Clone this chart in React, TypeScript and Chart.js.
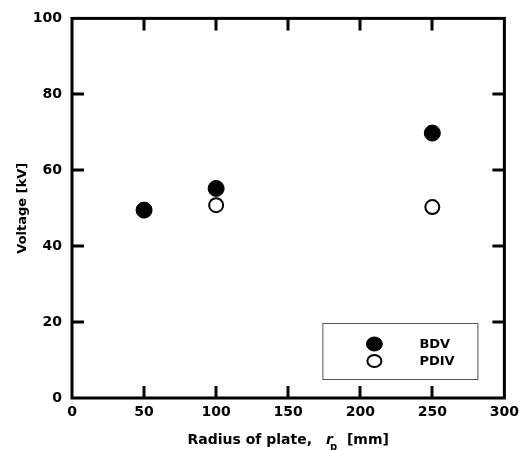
import React, { useEffect, useRef } from "react";
import { Chart, registerables } from "chart.js";

Chart.register(...registerables);

const radiusValues = [50, 100, 250];
const bdvValues = [49.5, 55.2, 69.8];
const pdivValues = [49.5, 50.8, 50.3];
const seriesLabels = ["BDV", "PDIV"];
const xTitleMain = "Radius of plate,";
const xTitleVar = "r";
const xTitleSub = "p";
const xTitleUnit = "[mm]";
const yTitle = "Voltage [kV]";

const FONT = "'DejaVu Sans', sans-serif";

const framePlugin = {
  id: "frameTicks",
  beforeDatasetsDraw(chart: any) {
    const { ctx, chartArea } = chart;
    const { left, right, top, bottom } = chartArea;
    const xs = chart.scales.x;
    const ys = chart.scales.y;
    const tl = 12;
    ctx.save();
    ctx.strokeStyle = "#000";
    ctx.lineWidth = 3;
    ctx.lineCap = "butt";
    ctx.beginPath();
    xs.ticks.forEach((t: any, i: number) => {
      if (i === 0 || i === xs.ticks.length - 1) return;
      const px = Math.round(xs.getPixelForValue(t.value));
      ctx.moveTo(px, bottom);
      ctx.lineTo(px, bottom - tl);
      ctx.moveTo(px, top);
      ctx.lineTo(px, top + tl);
    });
    ys.ticks.forEach((t: any, i: number) => {
      if (i === 0 || i === ys.ticks.length - 1) return;
      const py = Math.round(ys.getPixelForValue(t.value));
      ctx.moveTo(left, py);
      ctx.lineTo(left + tl, py);
      ctx.moveTo(right, py);
      ctx.lineTo(right - tl, py);
    });
    ctx.stroke();
    ctx.strokeRect(left, top, right - left, bottom - top);
    ctx.restore();
  },
  afterDraw(chart: any) {
    const { ctx, chartArea } = chart;
    const { left, right, bottom } = chartArea;
    ctx.save();
    // legend box
    const bx0 = right - 182;
    const by0 = bottom - 75;
    const bw = 155;
    const bh = 56;
    ctx.fillStyle = "#fff";
    ctx.fillRect(bx0, by0, bw, bh);
    ctx.strokeStyle = "#555";
    ctx.lineWidth = 1;
    ctx.strokeRect(bx0 + 0.5, by0 + 0.5, bw, bh);
    chart.data.datasets.forEach((ds: any, i: number) => {
      const cx = bx0 + 52;
      const cy = by0 + 21 + i * 17;
      ctx.beginPath();
      ctx.ellipse(cx, cy, ds.pointRadius, ds.pointRadius - 1, 0, 0, Math.PI * 2);
      ctx.fillStyle = ds.backgroundColor;
      ctx.fill();
      ctx.lineWidth = ds.borderWidth;
      ctx.strokeStyle = ds.borderColor;
      ctx.stroke();
      ctx.fillStyle = "#000";
      ctx.font = `bold 13px ${FONT}`;
      ctx.textBaseline = "middle";
      ctx.textAlign = "left";
      ctx.fillText(ds.label, bx0 + 97, cy + 1);
    });
    // x title
    ctx.fillStyle = "#000";
    ctx.textBaseline = "alphabetic";
    ctx.textAlign = "left";
    const mainFont = `bold 14px ${FONT}`;
    const varFont = `italic bold 14px ${FONT}`;
    const subFont = `bold 10px ${FONT}`;
    ctx.font = mainFont;
    const wMain = ctx.measureText(xTitleMain).width;
    const wUnit = ctx.measureText(xTitleUnit).width;
    ctx.font = varFont;
    const wVar = ctx.measureText(xTitleVar).width;
    const gap1 = 14;
    const gap2 = 14;
    const total = wMain + gap1 + wVar + gap2 + wUnit;
    let x = (left + right) / 2 - total / 2;
    const baseY = 444;
    ctx.font = mainFont;
    ctx.fillText(xTitleMain, x, baseY);
    x += wMain + gap1;
    ctx.font = varFont;
    ctx.fillText(xTitleVar, x, baseY);
    ctx.font = subFont;
    ctx.fillText(xTitleSub, x + wVar - 3, baseY + 6);
    x += wVar + gap2;
    ctx.font = mainFont;
    ctx.fillText(xTitleUnit, x, baseY);
    ctx.restore();
  },
};

export default function App() {
  const ref = useRef<HTMLCanvasElement | null>(null);
  useEffect(() => {
    document.body.style.margin = "0";
    const canvas = ref.current;
    if (!canvas) return;
    const chart = new Chart(canvas, {
      type: "scatter",
      data: {
        datasets: [
          {
            label: seriesLabels[0],
            data: radiusValues.map((x, i) => ({ x, y: bdvValues[i] })),
            pointRadius: 8,
            pointHoverRadius: 8,
            backgroundColor: "#000",
            borderColor: "#000",
            borderWidth: 1,
            pointBackgroundColor: "#000",
            pointBorderColor: "#000",
          },
          {
            label: seriesLabels[1],
            data: radiusValues.map((x, i) => ({ x, y: pdivValues[i] })),
            pointRadius: 7,
            pointHoverRadius: 7,
            backgroundColor: "#fff",
            borderColor: "#000",
            borderWidth: 2,
            pointBackgroundColor: "#fff",
            pointBorderColor: "#000",
            pointBorderWidth: 2,
          },
        ],
      },
      options: {
        animation: false,
        responsive: false,
        maintainAspectRatio: false,
        layout: { padding: { top: 16, right: 20, left: 0, bottom: 0 } },
        plugins: {
          legend: { display: false },
          tooltip: { enabled: false },
        },
        scales: {
          x: {
            type: "linear",
            min: 0,
            max: 300,
            ticks: {
              stepSize: 50,
              padding: 6,
              color: "#000",
              font: { family: FONT, weight: "bold", size: 14 },
              maxRotation: 0,
            },
            grid: { display: false, drawTicks: false },
            border: { display: false },
            afterFit: (s: any) => {
              s.height = 52;
            },
          },
          y: {
            type: "linear",
            min: 0,
            max: 100,
            ticks: {
              stepSize: 20,
              padding: 10,
              color: "#000",
              font: { family: FONT, weight: "bold", size: 14 },
            },
            grid: { display: false, drawTicks: false },
            border: { display: false },
            title: {
              display: true,
              text: yTitle,
              color: "#000",
              font: { family: FONT, weight: "bold", size: 13 },
              padding: { top: 15, bottom: 0 },
            },
            afterFit: (s: any) => {
              s.width = 72;
            },
          },
        },
      },
      plugins: [framePlugin],
    } as any);
    return () => chart.destroy();
  }, []);
  return (
    <div style={{ width: 525, height: 450 }}>
      <canvas ref={ref} width={525} height={450} style={{ display: "block" }} />
    </div>
  );
}
